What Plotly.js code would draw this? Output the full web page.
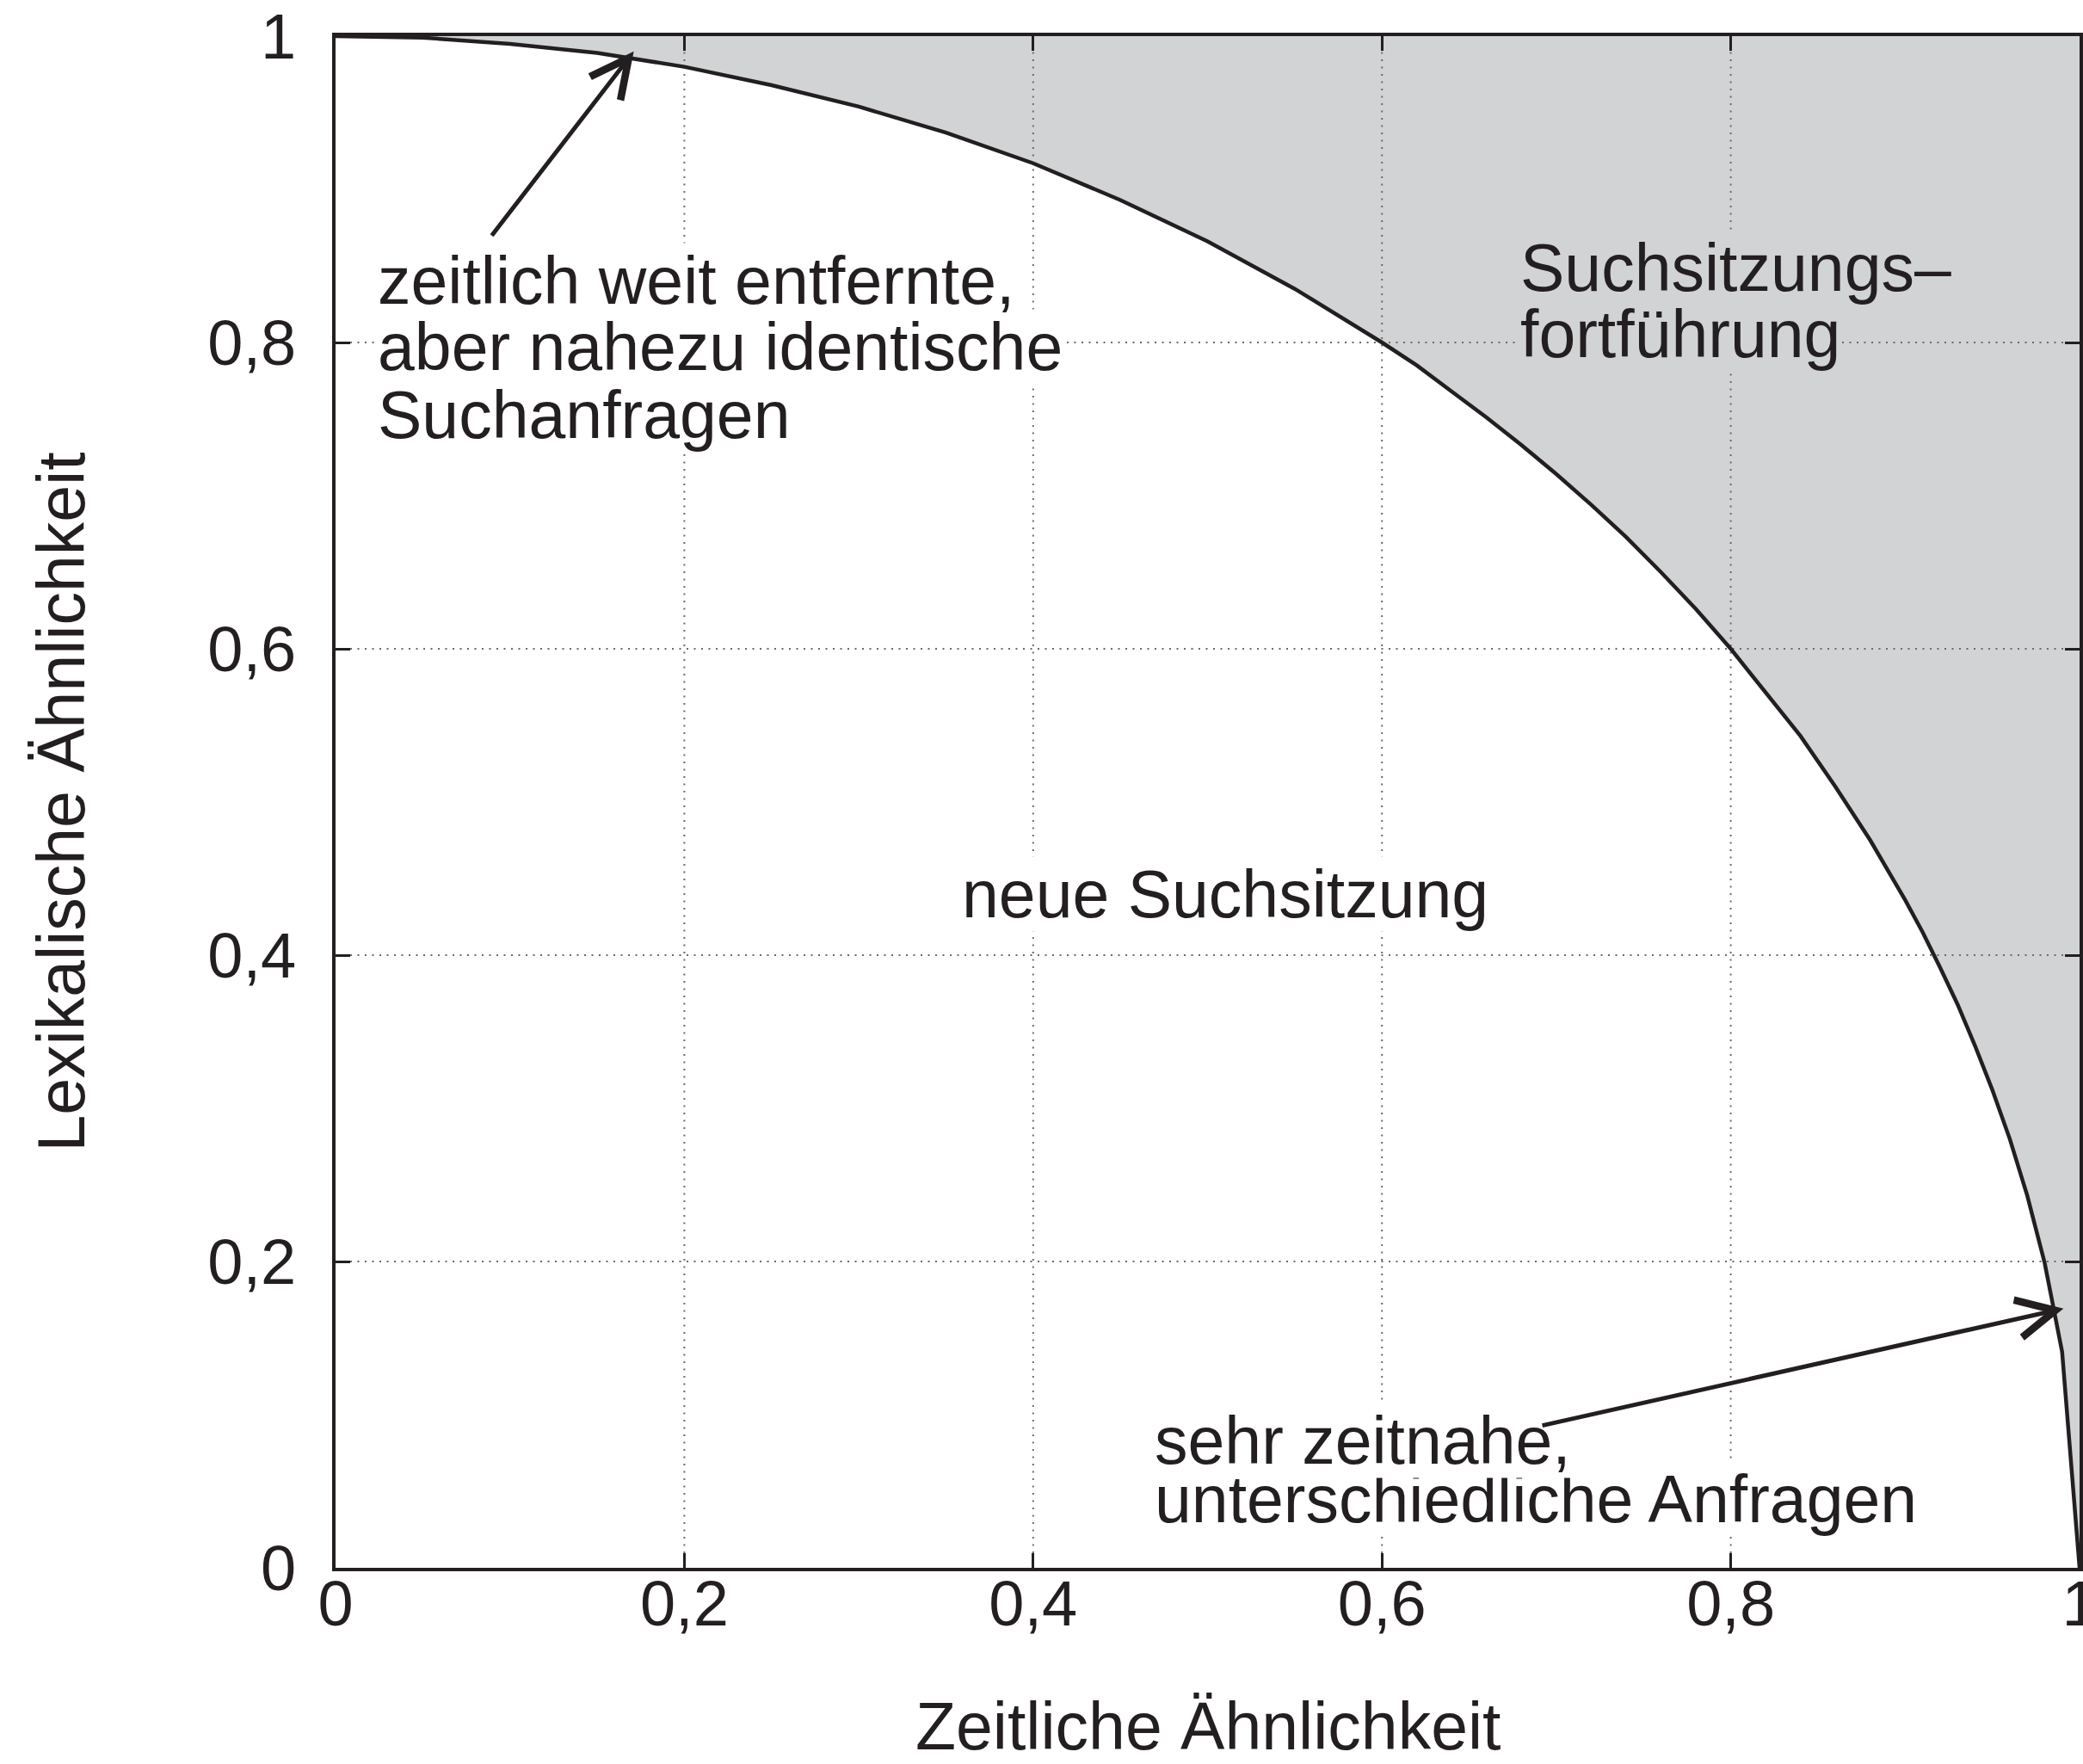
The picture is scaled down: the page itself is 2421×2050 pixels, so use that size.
<!DOCTYPE html>
<html><head><meta charset="utf-8">
<script src="https://cdn.plot.ly/plotly-3.0.1.min.js"></script>
<style>html,body{margin:0;padding:0;background:#fff;} #chart{width:2421px;height:2050px;}</style>
</head><body><div id="chart"></div>
<script>
// Boundary curve between "neue Suchsitzung" and "Suchsitzungsfortführung"
const curveX = [0, 0.05, 0.1, 0.15, 0.2, 0.25, 0.3, 0.35, 0.4, 0.45, 0.5, 0.55, 0.6, 0.62, 0.64, 0.66, 0.68, 0.7, 0.72, 0.74, 0.76, 0.78, 0.8, 0.82, 0.84, 0.86, 0.88, 0.9, 0.91, 0.92, 0.93, 0.94, 0.95, 0.96, 0.97, 0.98, 0.99, 1.0];
const curveY = [1.000, 0.999, 0.995, 0.989, 0.980, 0.968, 0.954, 0.937, 0.917, 0.893, 0.866, 0.835, 0.800, 0.785, 0.768, 0.751, 0.733, 0.714, 0.694, 0.673, 0.650, 0.626, 0.600, 0.572, 0.543, 0.510, 0.475, 0.436, 0.415, 0.392, 0.368, 0.341, 0.312, 0.280, 0.243, 0.199, 0.141, 0.000];

// Corner closing the shaded region
const regionCornerX = [1];
const regionCornerY = [1];

// Ticks and grid
const tickVals = [0, 0.2, 0.4, 0.6, 0.8, 1];
const tickText = ['0', '0,2', '0,4', '0,6', '0,8', '1'];
const gridVals = [0.2, 0.4, 0.6, 0.8];

// Texts
const xTitle = 'Zeitliche Ähnlichkeit';
const yTitle = 'Lexikalische Ähnlichkeit';
const farLines = ['zeitlich weit entfernte,', 'aber nahezu identische', 'Suchanfragen'];
const nearLines = ['sehr zeitnahe,', 'unterschiedliche Anfragen'];
const contLines = ['Suchsitzungs–', 'fortführung'];
const newLabel = 'neue Suchsitzung';

// Arrows: head and tail points (data units)
const arrowHeadX = [0.171, 0.9908];
const arrowHeadY = [0.990, 0.1693];
const arrowTailX = [0.089, 0.6912];
const arrowTailY = [0.869, 0.0927];

const INK = '#231f20';
const GRAY = '#d1d3d4';
const FONT = 'Liberation Sans, Arial, Helvetica, sans-serif';

// grid as dotted traces so they lie above the shaded fill
const gx = [], gy = [];
gridVals.forEach(v => { gx.push(v, v, null); gy.push(0, 1, null); });
gridVals.forEach(v => { gx.push(0, 1, null); gy.push(v, v, null); });

const traces = [
  { x: curveX.concat(regionCornerX), y: curveY.concat(regionCornerY), mode: 'lines', fill: 'toself',
    fillcolor: GRAY, line: { width: 0, color: GRAY }, hoverinfo: 'skip', showlegend: false },
  { x: gx, y: gy, mode: 'lines', line: { color: '#6a6a6a', width: 2, dash: '2px,6.5px' },
    hoverinfo: 'skip', showlegend: false, connectgaps: false },
  { x: curveX, y: curveY, mode: 'lines', line: { color: INK, width: 4.5 }, hoverinfo: 'skip', showlegend: false }
];

const tf = { family: FONT, size: 77, color: INK };
const ann = [];
function addLines(lines, x, ys, bg) {
  // bottom line first so the upper line's descenders stay visible
  for (let i = lines.length - 1; i >= 0; i--) {
    ann.push({ x: x, y: ys[i], xref: 'x', yref: 'y', xanchor: 'left', yanchor: 'middle',
      text: lines[i], showarrow: false, font: tf, bgcolor: bg, borderpad: 0 });
  }
}
addLines(farLines, 0.0235, [0.8404, 0.797, 0.753], '#ffffff');
addLines(contLines, 0.6786, [0.8489, 0.8056], GRAY);
addLines(nearLines, 0.469, [0.0831, 0.045], '#ffffff');
addLines([newLabel], 0.3585, [0.44], '#ffffff');
arrowHeadX.forEach((hx, i) => ann.push({
  x: hx, y: arrowHeadY[i], ax: arrowTailX[i], ay: arrowTailY[i], xref: 'x', yref: 'y', axref: 'x', ayref: 'y',
  text: '', showarrow: true, arrowhead: 5, arrowsize: 1.75, arrowwidth: 5, arrowcolor: INK, standoff: 0, startstandoff: 0
}));
// x-axis title placed below the tick labels
ann.push({ x: 0.5, y: -0.1035, xref: 'paper', yref: 'paper', xanchor: 'center', yanchor: 'middle',
  text: xTitle, showarrow: false, font: tf });

const axisCommon = {
  range: [0, 1], showgrid: false, zeroline: false, showline: true, linewidth: 4, linecolor: INK,
  mirror: 'ticks', ticks: 'inside', ticklen: 17, tickwidth: 3, tickcolor: INK,
  tickmode: 'array', tickvals: tickVals, ticktext: tickText, ticklabeloverflow: 'allow',
  tickfont: { family: FONT, size: 74, color: INK }, fixedrange: true, automargin: false
};

const layout = {
  width: 2421, height: 2050,
  margin: { l: 390, r: 4, t: 42, b: 228, pad: 0 },
  paper_bgcolor: '#ffffff', plot_bgcolor: '#ffffff',
  showlegend: false,
  font: { family: FONT, color: INK },
  xaxis: Object.assign({}, axisCommon, { ticklabelstandoff: -26 }),
  yaxis: Object.assign({}, axisCommon, { ticklabelstandoff: 27,
    title: { text: yTitle, font: { family: FONT, size: 77, color: INK }, standoff: 118 } }),
  annotations: ann
};

Plotly.newPlot('chart', traces, layout, { displayModeBar: false, staticPlot: true });
</script>
</body></html>
